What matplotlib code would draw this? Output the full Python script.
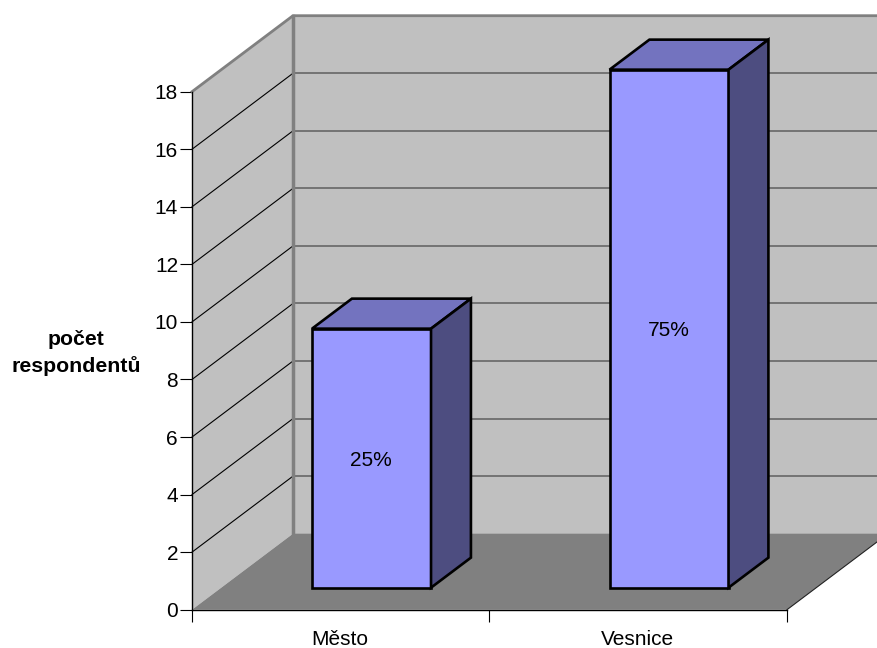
#!/usr/bin/env python3
# 3d-look column chart, oblique projection done by hand on a normal 2d axes
import matplotlib
matplotlib.use('Agg')
import matplotlib.pyplot as plt

categories = ['Město', 'Vesnice']
values = [9, 18]
percent_labels = ['25%', '75%']
y_ticks = [0, 2, 4, 6, 8, 10, 12, 14, 16, 18]

W, H = 878, 648
plt.rcParams['font.family'] = ['Liberation Sans', 'DejaVu Sans']

fig = plt.figure(figsize=(W / 100, H / 100), dpi=100)
ax = fig.add_axes([192 / W, 1 - 609.7 / H, 595 / W, 518 / H])
ax.set_xlim(0, 2)
ax.set_ylim(0, 18)
ax.patch.set_visible(False)

# how far the back wall is shifted, in data units
depth_x = 101 / 297.5
depth_y = 76 / (518 / 18)


def proj(x, y, d):
    return x + d * depth_x, y + d * depth_y


def face(pts, **kw):
    xs, ys = zip(*[proj(*p) for p in pts])
    ax.fill(xs, ys, clip_on=False, **kw)


# walls and floor
face([(0, 0, 1), (2, 0, 1), (2, 18, 1), (0, 18, 1)], color='#c0c0c0', lw=0, zorder=1)
face([(0, 0, 0), (0, 0, 1), (0, 18, 1), (0, 18, 0)], color='#c0c0c0', lw=0, zorder=1)
face([(0, 0, 0), (2, 0, 0), (2, 0, 1), (0, 0, 1)], color='#808080', lw=0, zorder=2)

# gridlines
for t in y_ticks[1:-1]:
    xs, ys = zip(proj(0, t, 0), proj(0, t, 1))
    ax.plot(xs, ys, color='black', lw=0.8, zorder=3, clip_on=False)
    xs, ys = zip(proj(0, t, 1), proj(2, t, 1))
    ax.plot(xs, ys, color='#666666', lw=1.2, zorder=3, clip_on=False)

# wall edges
xs, ys = zip(proj(0, 18, 0), proj(0, 18, 1), proj(2, 18, 1))
ax.plot(xs, ys, color='#808080', lw=2, zorder=3, clip_on=False)
xs, ys = zip(proj(0, 0, 1), proj(0, 18, 1))
ax.plot(xs, ys, color='#808080', lw=2.5, zorder=3, clip_on=False)
xs, ys = zip(proj(2, 0, 0), proj(2, 0, 1))
ax.plot(xs, ys, color='#222222', lw=0.8, zorder=3, clip_on=False)

# bars
bar_w = 0.4
d0, d1 = 0.29, 0.685
edge = dict(edgecolor='black', lw=1.9, joinstyle='miter')
for i, v in enumerate(values):
    x0 = i + 0.305
    x1 = x0 + bar_w
    face([(x0, 0, d0), (x1, 0, d0), (x1, v, d0), (x0, v, d0)],
         facecolor='#9999ff', zorder=5, **edge)
    face([(x0, v, d0), (x1, v, d0), (x1, v, d1), (x0, v, d1)],
         facecolor='#7373bf', zorder=5, **edge)
    face([(x1, 0, d0), (x1, 0, d1), (x1, v, d1), (x1, v, d0)],
         facecolor='#4d4d80', zorder=5, **edge)
    tx, ty = proj((x0 + x1) / 2, v / 2, d0)
    ax.annotate(percent_labels[i], xy=(tx, ty), xytext=(-0.5, 0), textcoords='offset points',
                ha='center', va='center_baseline', fontsize=15, zorder=6)

ax.set_yticks(y_ticks)
ax.set_xticks([0, 1, 2])
ax.set_xticklabels([])
ax.tick_params(axis='y', length=8.5, width=0.8, labelsize=15, pad=1.5)
ax.tick_params(axis='x', length=8.5, width=0.8)
for i, c in enumerate(categories):
    ax.annotate(c, xy=(i + 0.5, 0), xytext=(-0.5, -21.8), textcoords='offset points',
                ha='center', va='center', fontsize=15)

for s in ['top', 'right']:
    ax.spines[s].set_visible(False)
ax.spines['left'].set_linewidth(1)
ax.spines['bottom'].set_linewidth(1)
ax.spines['left'].set_zorder(4)
ax.spines['bottom'].set_zorder(4)

fig.text(76 / W, 1 - 353 / H, 'počet\nrespondentů', ha='center', va='center',
         fontsize=15.3, fontweight='bold', linespacing=1.45)

fig.savefig('out.png', dpi=100)
